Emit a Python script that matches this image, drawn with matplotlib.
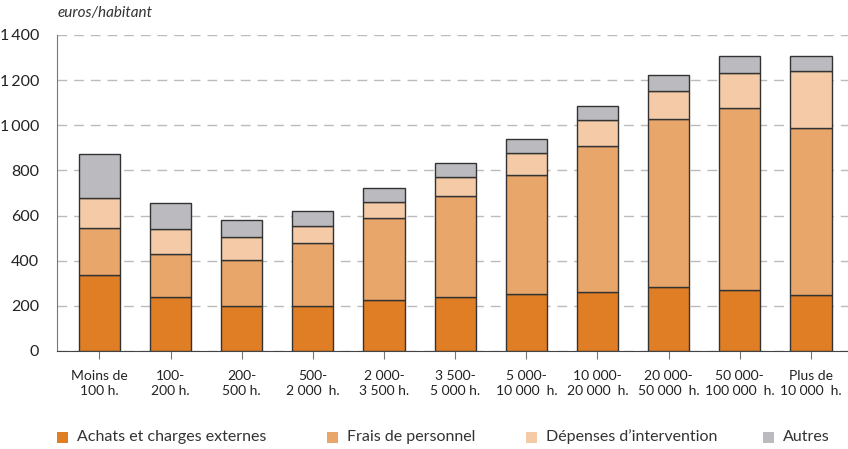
import matplotlib.pyplot as plt
import numpy as np
from matplotlib.patches import Rectangle

plt.rcParams['font.family'] = ['Lato', 'DejaVu Sans']

categories = ['Moins de\n100 h.', '100-\n200 h.', '200-\n500 h.', '500-\n2 000  h.',
              '2 000-\n3 500 h.', '3 500-\n5 000 h.', '5 000-\n10 000  h.',
              '10 000-\n20 000  h.', '20 000-\n50 000  h.', '50 000-\n100 000  h.',
              'Plus de\n10 000  h.']

# euros par habitant
achats = [337, 241, 199, 199, 226, 241, 254, 261, 282, 269, 247]
frais = [209, 190, 204, 279, 362, 447, 524, 646, 747, 808, 741]
depenses = [130, 108, 102, 74, 74, 84, 101, 115, 123, 155, 251]
autres = [197, 118, 75, 70, 62, 59, 62, 62, 70, 76, 69]

series = [achats, frais, depenses, autres]
labels = ['Achats et charges externes', 'Frais de personnel',
          'Dépenses d\u2019intervention', 'Autres']
colors = ['#E07E25', '#E9A66A', '#F5CAA6', '#BBBBBF']

yticks = [0, 200, 400, 600, 800, 1000, 1200, 1400]
ytick_labels = ['0', '200', '400', '600', '800', '1\u2009000', '1\u2009200', '1\u2009400']

W, H = 848, 449
fig = plt.figure(figsize=(W / 100, H / 100), dpi=100)
ax = fig.add_axes([57 / W, 1 - 351 / H, 791 / W, 316 / H])

x = np.arange(len(categories))
bottom = np.zeros(len(categories))
for vals, col in zip(series, colors):
    ax.bar(x, vals, width=0.58, bottom=bottom, color=col,
           edgecolor='#333333', linewidth=1.0, zorder=3)
    bottom += np.array(vals)

ax.set_xlim(-0.595, 10.52)
ax.set_ylim(0, 1400)
ax.set_yticks(yticks)
ax.set_yticklabels(ytick_labels, fontsize=11.5, color='#222222')
ax.set_xticks(x)
ax.set_xticklabels(categories, fontsize=10, color='#222222', linespacing=1.25)

ax.grid(axis='y', color='#BBBBBB', linestyle=(0, (7, 5)), linewidth=1.0, zorder=0)
for s in ['top', 'right']:
    ax.spines[s].set_visible(False)
ax.spines['left'].set_color('#777777')
ax.spines['bottom'].set_color('#444444')
ax.tick_params(axis='y', length=0, pad=13)
ax.tick_params(axis='x', length=6, color='#777777', pad=8)

fig.text(58 / W, 1 - 13 / H, 'euros/habitant', fontsize=11, style='italic',
         color='#333333', va='center')

# legend drawn by hand to match the spacing of the original
leg_x = [57, 327, 526, 763]
leg_y = 437
for lx, lab, col in zip(leg_x, labels, colors):
    fig.patches.append(Rectangle((lx / W, 1 - (leg_y + 5.5) / H), 11 / W, 11 / H,
                                 transform=fig.transFigure, facecolor=col,
                                 edgecolor='none'))
    fig.text((lx + 20) / W, 1 - leg_y / H, lab, fontsize=11.5, color='#333333',
             va='center')

fig.savefig('out.png', dpi=100)
